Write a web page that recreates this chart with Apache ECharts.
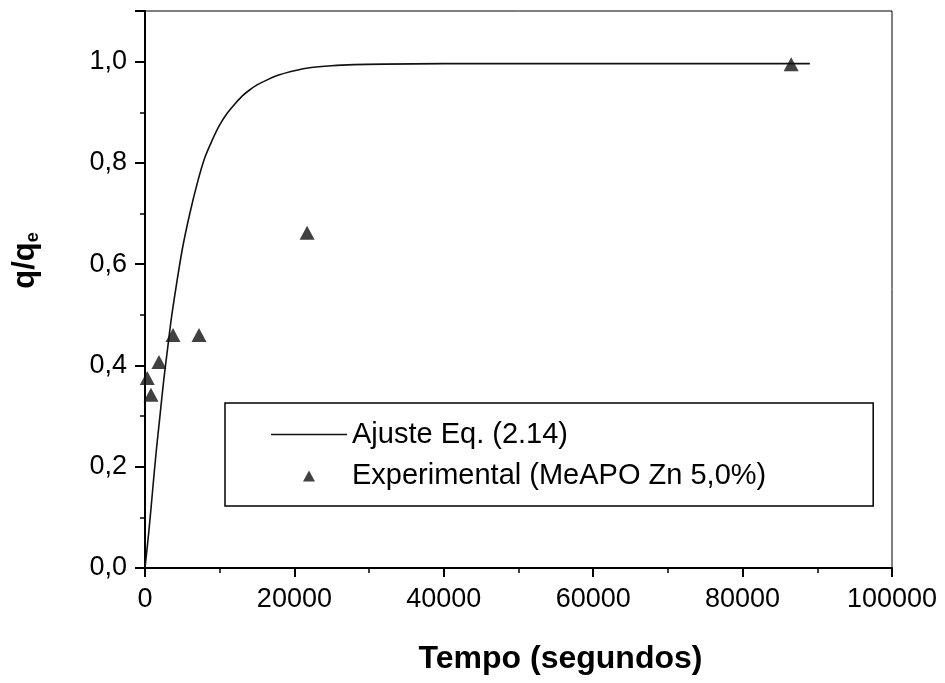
<!DOCTYPE html>
<html>
<head>
<meta charset="utf-8">
<script src="https://cdn.jsdelivr.net/npm/echarts@6/dist/echarts.min.js"></script>
<style>
html,body{margin:0;padding:0;background:#fff;}
#chart{width:945px;height:683px;}
</style>
</head>
<body>
<div id="chart"></div>
<script>
// Fitted curve (Ajuste Eq. 2.14)
const fitTime = [0, 500, 1000, 1500, 2000, 2500, 3000, 3500, 4000, 5000, 6000, 7000, 8000, 9000, 10000, 11000, 12000, 13000, 14000, 15000, 16500, 18000, 20000, 22000, 25000, 28000, 32000, 40000, 60000, 89000];
const fitValue = [0, 0.07, 0.15, 0.23, 0.30, 0.37, 0.43, 0.49, 0.54, 0.63, 0.70, 0.76, 0.81, 0.845, 0.875, 0.898, 0.916, 0.932, 0.944, 0.954, 0.965, 0.974, 0.982, 0.988, 0.992, 0.994, 0.995, 0.996, 0.996, 0.996];
// Experimental points (MeAPO Zn 5,0%)
const expTime = [300, 800, 1870, 3750, 7230, 21700, 86500];
const expValue = [0.375, 0.342, 0.407, 0.460, 0.460, 0.662, 0.995];

const seriesNames = ['Ajuste Eq. (2.14)', 'Experimental (MeAPO Zn 5,0%)'];
const xTitle = 'Tempo (segundos)';

const FONT = 'Liberation Sans, Arial, Helvetica, sans-serif';

// legend icons: 76x13 boxes (degenerate corner points fix the bounding box)
const ICON_LINE = 'path://M0,0 L0,0 M76,13 L76,13 M0,5.7 L76,5.7 L76,7.3 L0,7.3 Z';
const ICON_TRI = 'path://M0,0 L0,0 M76,13 L76,13 M32,12.5 L38,1.5 L44,12.5 Z';

const chart = echarts.init(document.getElementById('chart'), null, {renderer: 'canvas'});
chart.setOption({
  backgroundColor: '#fff',
  animation: false,
  grid: {
    left: 145, top: 11, right: 53, bottom: 115,
    show: true, borderColor: '#000', borderWidth: 1, backgroundColor: 'transparent'
  },
  legend: {
    orient: 'vertical',
    left: 225, top: 403,
    padding: [17, 107, 16, 46],
    itemGap: 12,
    itemWidth: 76,
    itemHeight: 13,
    borderColor: '#000',
    borderWidth: 1.5,
    borderRadius: 0,
    textStyle: {fontFamily: FONT, fontSize: 29, color: '#000'},
    data: [
      {name: seriesNames[0], icon: ICON_LINE, itemStyle: {color: '#111'}},
      {name: seriesNames[1], icon: ICON_TRI, itemStyle: {color: '#111'}}
    ]
  },
  xAxis: {
    type: 'value',
    min: 0, max: 100000, interval: 20000,
    name: xTitle,
    nameLocation: 'middle',
    nameGap: 75,
    nameTextStyle: {fontFamily: FONT, fontSize: 32, fontWeight: 'bold', color: '#000', padding: [0, 0, 0, 84]},
    axisLine: {show: true, onZero: false, lineStyle: {color: '#000', width: 2}},
    axisTick: {show: true, inside: false, length: 9, lineStyle: {color: '#000', width: 2}},
    minorTick: {show: true, splitNumber: 2, length: 5, lineStyle: {color: '#000', width: 1.5}},
    axisLabel: {fontFamily: FONT, fontSize: 27, color: '#000', margin: 18,
      formatter: function (v) { return String(Math.round(v)); }},
    splitLine: {show: false},
    minorSplitLine: {show: false}
  },
  yAxis: {
    type: 'value',
    min: 0, max: 1.1, interval: 0.2,
    name: '{a|q/q}{s|e}',
    nameLocation: 'middle',
    nameRotate: 90,
    nameGap: 103,
    nameTextStyle: {
      color: '#000', padding: [0, 0, 0, 58],
      rich: {
        a: {fontFamily: FONT, fontSize: 31, fontWeight: 'bold', color: '#000'},
        s: {fontFamily: FONT, fontSize: 18, fontWeight: 'bold', color: '#000', verticalAlign: 'bottom', padding: [16, 0, 0, 0]}
      }
    },
    axisLine: {show: true, onZero: false, lineStyle: {color: '#000', width: 2}},
    axisTick: {show: true, inside: false, length: 10, lineStyle: {color: '#000', width: 2}},
    minorTick: {show: true, splitNumber: 2, length: 5, lineStyle: {color: '#000', width: 1.5}},
    axisLabel: {fontFamily: FONT, fontSize: 27, color: '#000', margin: 18,
      formatter: function (v) {
        const r = Math.round(v * 10);
        if (r % 2 !== 0) return '';
        return (r / 10).toFixed(1).replace('.', ',');
      }},
    splitLine: {show: false},
    minorSplitLine: {show: false}
  },
  series: [
    {
      name: seriesNames[0],
      type: 'line',
      data: fitTime.map((t, i) => [t, fitValue[i]]),
      smooth: 0.3,
      showSymbol: false,
      symbol: 'none',
      lineStyle: {color: '#111', width: 1.6},
      itemStyle: {color: '#111'},
      z: 2
    },
    {
      name: seriesNames[1],
      type: 'scatter',
      data: expTime.map((t, i) => [t, expValue[i]]),
      symbol: 'triangle',
      symbolSize: [15, 14],
      itemStyle: {color: '#111'},
      z: 3
    }
  ]
});
</script>
</body>
</html>
